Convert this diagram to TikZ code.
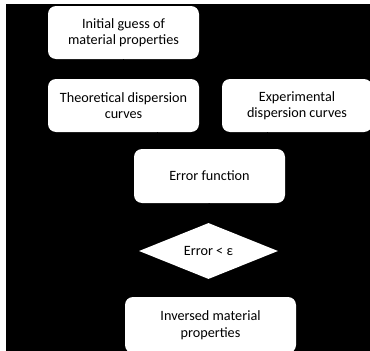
\documentclass[tikz,border=0pt]{standalone}
\usepackage{fontspec}
\setmainfont{Carlito}
\usetikzlibrary{shapes.geometric}
\tikzset{
	stepbox/.style={draw=none,fill=white,rounded corners=8pt,align=center,inner sep=2pt},
	testbox/.style={diamond,draw=none,fill=white,inner sep=0pt,aspect=2.5},
	flow/.style={draw=black,->,line width=1pt}
}
\begin{document}
\begin{tikzpicture} [x=1pt,y=-1pt,font=\fontsize{14.2}{16.5}\selectfont]
		\useasboundingbox (0,0) rectangle (370,351);
		\fill [black] (6,4) rectangle (370,351);
		\node [stepbox,minimum width=151pt,minimum height=53pt] (guess) at (123.5,32.5) {Initial guess of\\material properties};
		\node [stepbox,minimum width=151pt,minimum height=53pt] (theory) at (123.5,105.5) {Theoretical dispersion\\curves};
		\node [stepbox,minimum width=150pt,minimum height=53pt] (exper) at (297,105.5) {Experimental\\dispersion curves};
		\node [stepbox,minimum width=151pt,minimum height=54pt] (errfun) at (209.5,176) {Error function};
		\node [testbox,minimum width=139pt,minimum height=56pt] (test) at (208.5,251) {Error < ε};
		\node [stepbox,minimum width=171pt,minimum height=56pt] (result) at (210.5,325) {Inversed material\\properties};
		\draw [flow] (guess) -- (theory);
		\draw [flow] (theory.south -| 157,0) -- (errfun.north -| 157,0);
		\draw [flow] (exper.south -| 267,0) -- (errfun.north -| 267,0);
		\draw [flow] (errfun) -- (test);
		\draw [flow] (test) -- (result);
	\end{tikzpicture}
\end{document}
